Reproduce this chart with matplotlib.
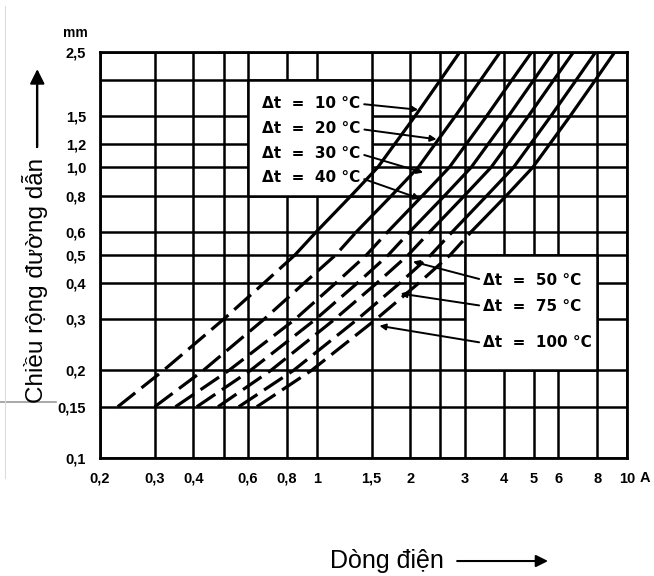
import matplotlib.pyplot as plt
from matplotlib.patches import Rectangle

# Width of the track (mm) at which each current is read
width_mm = [0.15, 0.2, 0.3, 0.4, 0.5, 0.6, 0.8, 1.0, 1.5, 2.0, 2.5]

# Current (A) for each temperature rise
i_10 = [0.228, 0.32, 0.50, 0.675, 0.85, 0.995, 1.29, 1.57, 2.07, 2.50, 2.89]
i_20 = [0.30, 0.43, 0.675, 0.91, 1.15, 1.34, 1.74, 2.12, 2.79, 3.37, 3.90]
i_30 = [0.35, 0.52, 0.85, 1.15, 1.445, 1.69, 2.19, 2.67, 3.52, 4.25, 4.93]
i_40 = [0.41, 0.61, 0.99, 1.35, 1.70, 1.99, 2.58, 3.14, 4.14, 5.00, 5.78]
i_50 = [0.48, 0.71, 1.14, 1.56, 1.97, 2.31, 2.99, 3.64, 4.80, 5.80, 6.72]
i_75 = [0.56, 0.84, 1.35, 1.85, 2.33, 2.73, 3.53, 4.30, 5.67, 6.85, 7.92]
i_100 = [0.64, 0.96, 1.55, 2.13, 2.69, 3.14, 4.08, 4.96, 6.54, 7.90, 9.13]

curves = [i_10, i_20, i_30, i_40, i_50, i_75, i_100]
labels = ['Δt  =  10 °C', 'Δt  =  20 °C', 'Δt  =  30 °C', 'Δt  =  40 °C',
          'Δt  =  50 °C', 'Δt  =  75 °C', 'Δt  =  100 °C']
dash_end = [4, 5, 5, 5, 5, 5, 5]   # last dashed point index

x_grid = [0.2, 0.3, 0.4, 0.5, 0.6, 0.8, 1, 1.5, 2, 2.5, 3, 4, 5, 6, 8, 10]
x_ticklabels = ['0,2', '0,3', '0,4', '', '0,6', '0,8', '1', '1,5', '2', '',
                '3', '4', '5', '6', '8', '10']
y_grid = [0.1, 0.15, 0.2, 0.3, 0.4, 0.5, 0.6, 0.8, 1.0, 1.2, 1.5, 2.0, 2.5]
y_ticklabels = ['0,1', '0,15', '0,2', '0,3', '0,4', '0,5', '0,6', '0,8',
                '1,0', '1,2', '1,5', '', '2,5']

# arrow tips (current, width) for the labels
tips_upper = [(2.12, 1.58), (2.43, 1.25), (2.20, 0.96), (2.15, 0.78)]
tips_lower = [(2.04, 0.474), (1.86, 0.368), (1.59, 0.285)]

fig = plt.figure(figsize=(6.54, 5.76), dpi=100)
ax = fig.add_axes([0.153, 0.205, 0.806, 0.705])
ax.set_xscale('log')
ax.set_yscale('log')
ax.set_xlim(0.2, 10)
ax.set_ylim(0.1, 2.5)

for x in x_grid:
    ax.axvline(x, color='black', lw=1.8, zorder=1)
for y in y_grid:
    ax.axhline(y, color='black', lw=1.8, zorder=1)

# white label boxes hide the grid behind them
ax.add_patch(Rectangle((0.6, 0.8), 0.9, 1.2, facecolor='white',
                       edgecolor='black', lw=1.8, zorder=1.5))
ax.add_patch(Rectangle((3, 0.2), 5, 0.3, facecolor='white',
                       edgecolor='black', lw=1.8, zorder=1.5))

for cur, k in zip(curves, dash_end):
    ax.plot(cur[:k + 1], width_mm[:k + 1], color='black', lw=2.3,
            linestyle=(0, (7, 2.5)), zorder=3)
    ax.plot(cur[k:], width_mm[k:], color='black', lw=2.3, zorder=3)

ax.minorticks_off()
ax.set_xticks(x_grid)
ax.set_xticklabels(x_ticklabels)
ax.set_yticks(y_grid)
ax.set_yticklabels(y_ticklabels)
ax.tick_params(length=0, pad=10)
for t in ax.get_xticklabels() + ax.get_yticklabels():
    t.set_fontfamily('Liberation Sans')
    t.set_fontweight('bold')
    t.set_fontsize(10.5)
for s in ax.spines.values():
    s.set_linewidth(2)

ax.text(1.034, -0.049, 'A', transform=ax.transAxes, ha='center', va='center',
        fontsize=10.5, fontweight='bold', family='Liberation Sans')
ax.text(-0.047, 1.047, 'mm', transform=ax.transAxes, ha='center', va='center',
        fontsize=10, fontweight='bold', family='Liberation Sans')

upper_pos = [(0.307, 0.872), (0.307, 0.810), (0.307, 0.749), (0.307, 0.690)]
for lab, tip, pos in zip(labels[:4], tips_upper, upper_pos):
    ax.annotate(lab, xy=tip, xycoords='data', xytext=pos,
                textcoords='axes fraction', ha='left', va='center',
                fontsize=11, fontweight='bold', zorder=4,
                arrowprops=dict(arrowstyle='-|>', relpos=(1, 0.5), lw=1.4,
                                color='black', shrinkA=1, shrinkB=0,
                                mutation_scale=9))

lower_pos = [(0.727, 0.438), (0.727, 0.374), (0.727, 0.283)]
for lab, tip, pos in zip(labels[4:], tips_lower, lower_pos):
    ax.annotate(lab, xy=tip, xycoords='data', xytext=pos,
                textcoords='axes fraction', ha='left', va='center',
                fontsize=11, fontweight='bold', zorder=4,
                arrowprops=dict(arrowstyle='-|>', relpos=(0, 0.5), lw=1.4,
                                color='black', shrinkA=1, shrinkB=0,
                                mutation_scale=9))

# axis titles with arrows
fig.text(0.053, 0.513, 'Chiều rộng đường dẫn', rotation=90, ha='center',
         va='center', fontsize=17.5, family='Liberation Sans')
fig.add_artist(plt.Line2D([0.057, 0.057], [0.745, 0.85], color='black', lw=1.5))
ax.annotate('', xy=(0.057, 0.88), xytext=(0.057, 0.745), xycoords='figure fraction',
            arrowprops=dict(arrowstyle='-|>', color='black', lw=1.5,
                            mutation_scale=22, shrinkA=0, shrinkB=0))
fig.text(0.592, 0.0139, 'Dòng điện', ha='center', va='baseline', fontsize=18,
         family='Liberation Sans')
ax.annotate('', xy=(0.838, 0.026), xytext=(0.699, 0.026), xycoords='figure fraction',
            arrowprops=dict(arrowstyle='-|>', color='black', lw=1.5,
                            mutation_scale=18, shrinkA=0, shrinkB=0))

# stray grey marks at the page edges
fig.add_artist(plt.Line2D([0.0, 0.085], [0.302, 0.302], color='#999999', lw=1.2))
fig.add_artist(plt.Line2D([0.008, 0.008], [0.17, 0.99], color='#dddddd', lw=0.8))

fig.savefig('out.png', dpi=100)
